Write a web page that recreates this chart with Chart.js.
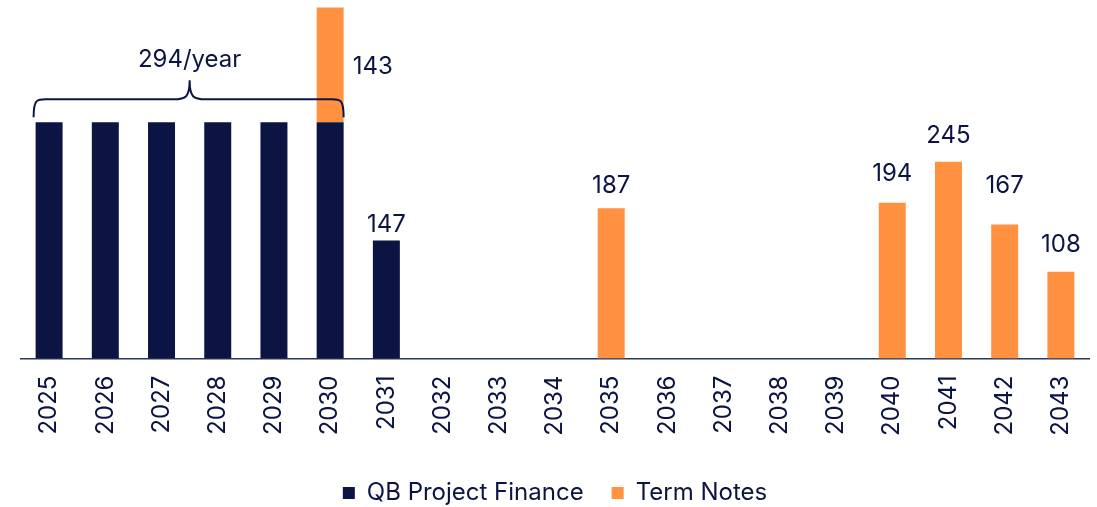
<!DOCTYPE html>
<html>
<head>
<meta charset="utf-8">
<script src="https://cdn.jsdelivr.net/npm/chart.js@4"></script>
<style>
  html, body { margin: 0; padding: 0; background: #fff; }
  #wrap { width: 1097px; height: 507px; }
</style>
</head>
<body>
<div id="wrap"><canvas id="myChart"></canvas></div>
<script>
// Maturity profile data
const years = ["2025", "2026", "2027", "2028", "2029", "2030", "2031", "2032", "2033", "2034",
  "2035", "2036", "2037", "2038", "2039", "2040", "2041", "2042", "2043"];
const projectFinance = [294, 294, 294, 294, 294, 294, 147, 0, 0, 0, 0, 0, 0, 0, 0, 0, 0, 0, 0];
const termNotes = [0, 0, 0, 0, 0, 143, 0, 0, 0, 0, 187, 0, 0, 0, 0, 194, 245, 167, 108];

// brace over the flat years
const braceFrom = 0;
const braceTo = 5;
const braceText = "294/year";

const NAVY = "#0b1442";
const ORANGE = "#ff9140";
const FONT = "Inter, 'Noto Sans', sans-serif";

// gap (px) between bar top and its label, placed by hand in the original
const labelGap = { "2031": 8, "2035": 15, "2040": 22, "2041": 19, "2042": 31, "2043": 20 };

Chart.defaults.font.family = FONT;
Chart.defaults.color = NAVY;

// value labels + brace
const labelPlugin = {
  id: "labels",
  afterDatasetsDraw(chart) {
    const ctx = chart.ctx;
    const navyMeta = chart.getDatasetMeta(0);
    const orangeMeta = chart.getDatasetMeta(1);
    ctx.save();
    ctx.fillStyle = NAVY;
    ctx.font = "24px " + FONT;

    // navy labels (outside the brace range)
    navyMeta.data.forEach((bar, i) => {
      const v = projectFinance[i];
      if (!v || (i >= braceFrom && i <= braceTo)) return;
      ctx.textAlign = "center";
      ctx.textBaseline = "alphabetic";
      ctx.fillText(v, bar.x, bar.y - (labelGap[years[i]] || 9));
    });

    // orange labels
    orangeMeta.data.forEach((bar, i) => {
      const v = termNotes[i];
      if (!v) return;
      if (projectFinance[i]) {
        ctx.textAlign = "left";
        ctx.textBaseline = "middle";
        ctx.fillText(v, bar.x + bar.width / 2 + 9, (bar.y + bar.base) / 2 + 2);
      } else {
        ctx.textAlign = "center";
        ctx.textBaseline = "alphabetic";
        ctx.fillText(v, bar.x, bar.y - (labelGap[years[i]] || 9));
      }
    });

    // brace
    const b0 = navyMeta.data[braceFrom];
    const b1 = navyMeta.data[braceTo];
    const x0 = b0.x - b0.width / 2 - 2;
    const x1 = b1.x + b1.width / 2;
    const yB = Math.min(b0.y, b1.y) - 5;
    const yH = yB - 18;
    const yT = yH - 19;
    const xm = (x0 + x1) / 2 + 1;
    const r = 16;
    ctx.strokeStyle = NAVY;
    ctx.lineWidth = 2;
    ctx.beginPath();
    ctx.moveTo(x0, yB);
    ctx.bezierCurveTo(x0, yH - 2, x0 + 4, yH, x0 + r, yH);
    ctx.lineTo(xm - r, yH);
    ctx.bezierCurveTo(xm - 4, yH, xm, yH - 2, xm, yT);
    ctx.bezierCurveTo(xm, yH - 2, xm + 4, yH, xm + r, yH);
    ctx.lineTo(x1 - r, yH);
    ctx.bezierCurveTo(x1 - 4, yH, x1, yH - 2, x1, yB);
    ctx.stroke();

    ctx.textAlign = "center";
    ctx.textBaseline = "middle";
    ctx.fillText(braceText, xm, yT - 21);
    ctx.restore();
  }
};

const data = {
  labels: years,
  datasets: [
    {
      label: "QB Project Finance",
      backgroundColor: NAVY,
      data: projectFinance,
    },
    {
      label: "Term Notes",
      backgroundColor: ORANGE,
      data: termNotes,
    },
  ],
};

const config = {
  type: "bar",
  data: data,
  options: {
    responsive: true,
    maintainAspectRatio: false,
    animation: false,
    barPercentage: 0.96,
    categoryPercentage: 0.5,
    layout: { padding: { left: 21, right: 8, top: 5, bottom: -8 } },
    plugins: {
      tooltip: { enabled: false },
      legend: {
        position: "bottom",
        labels: {
          boxWidth: 12,
          boxHeight: 12,
          padding: 28,
          color: NAVY,
          font: { size: 24 },
        },
      },
    },
    scales: {
      x: {
        stacked: true,
        grid: { display: false, drawTicks: false },
        border: { display: true, color: "#2b365e", width: 1.5 },
        ticks: {
          minRotation: 90,
          maxRotation: 90,
          padding: 17,
          color: NAVY,
          font: { size: 24 },
        },
        afterFit(scale) {
          scale.paddingRight = 0;
        },
      },
      y: {
        stacked: true,
        display: false,
        min: 0,
        max: 440,
      },
    },
  },
  plugins: [labelPlugin],
};

const myChart = new Chart(document.getElementById("myChart"), config);
</script>
</body>
</html>
